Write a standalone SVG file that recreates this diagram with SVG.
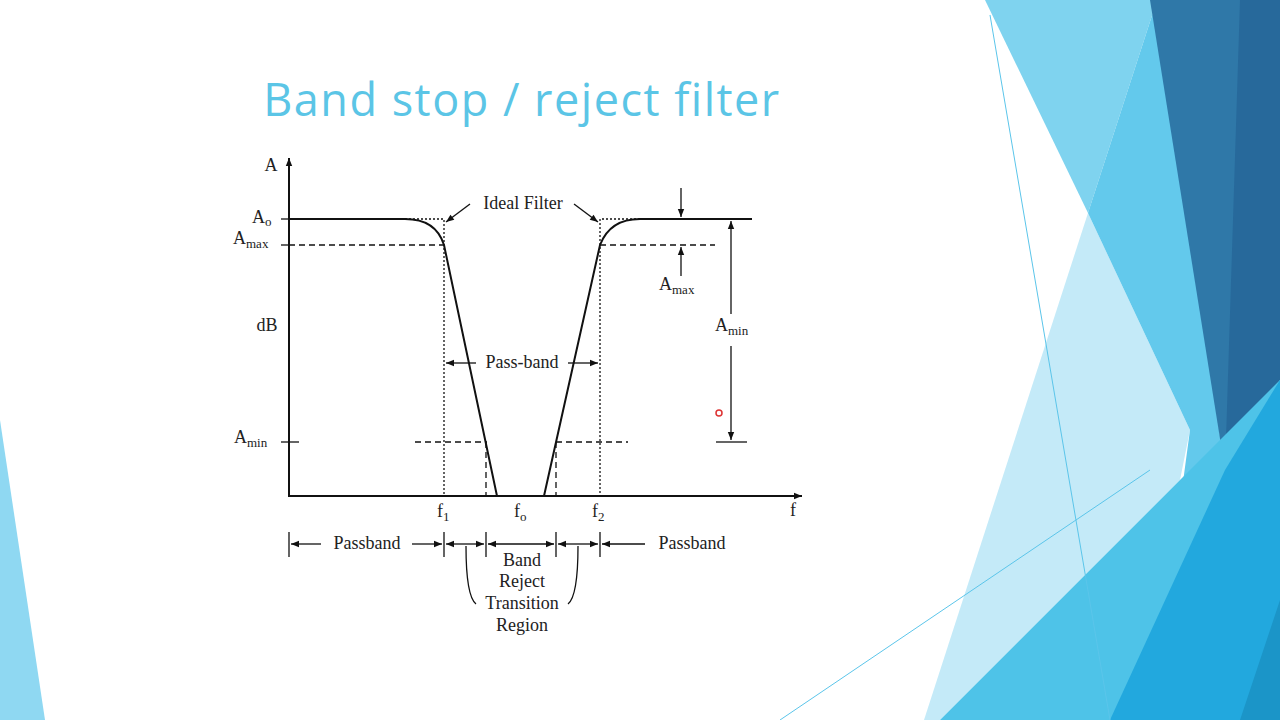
<svg xmlns="http://www.w3.org/2000/svg" width="1280" height="720" viewBox="0 0 1280 720">
<defs>
<marker id="ah" viewBox="0 0 10 10" refX="10" refY="5" markerWidth="10" markerHeight="8" markerUnits="userSpaceOnUse" orient="auto"><path d="M0,1 L10,5 L0,9 Z" fill="#111"/></marker>
<marker id="ahl" viewBox="0 0 10 10" refX="10" refY="5" markerWidth="14" markerHeight="8" markerUnits="userSpaceOnUse" orient="auto"><path d="M0,1 L10,5 L0,9 Z" fill="#111"/></marker>
</defs>
<style>
.t{font-family:"Liberation Serif",serif;font-size:18px;fill:#222}
.s{font-size:13px}
.ln{stroke:#111;stroke-width:2;fill:none}
.th{stroke:#111;stroke-width:1.3;fill:none}
.dot{stroke:#111;stroke-width:1.3;stroke-dasharray:2 2;fill:none}
.dash{stroke:#111;stroke-width:1.3;stroke-dasharray:6 4;fill:none}
</style>
<rect width="1280" height="720" fill="#fff"/>
<g id="background">
<polygon points="0,420 45,720 0,720" fill="#8fd8f2"/>
<polygon points="1088,213 1190,430 1180,480 940,720 924,720" fill="#c4eaf8"/>
<polygon points="985,0 1157,0 1088,213" fill="#7fd3ef"/>
<polygon points="1157,0 1225,470 1183,482 1190,430 1088,213" fill="#63c9ec"/>
<polygon points="1150,0 1280,0 1280,380 1225,470" fill="#2f78a8"/>
<polygon points="1240,0 1280,0 1280,380 1225,470" fill="#27699b"/>
<polygon points="940,720 1280,380 1280,720" fill="#4ec3e8"/>
<polygon points="1110,720 1225,470 1280,380 1280,720" fill="#22a8de"/>
<polygon points="1240,720 1280,600 1280,720" fill="#1b95c8"/>
<line x1="990" y1="15" x2="1110" y2="720" stroke="#5bc5ea" stroke-width="1"/>
<line x1="780" y1="720" x2="1150" y2="470" stroke="#5bc5ea" stroke-width="1"/>
</g>
<text id="title" x="522" y="116" text-anchor="middle" font-family="Open Sans, sans-serif" font-size="45" letter-spacing="1.5" fill="#5bc5e6">Band stop / reject filter</text>
<g id="axes">
<line class="ln" x1="289" y1="497" x2="289" y2="158" marker-end="url(#ahl)"/>
<line class="ln" x1="289" y1="496" x2="802" y2="496" marker-end="url(#ahl)"/>
<line class="th" x1="281" y1="219" x2="289" y2="219"/>
<line class="th" x1="281" y1="245" x2="289" y2="245"/>
<line class="th" x1="281" y1="442" x2="299" y2="442"/>
</g>
<g id="response">
<path class="ln" d="M289,219 L405,219 Q436,219 444,245 L497,496"/>
<path class="ln" d="M544,496 L600,245 Q610,219 640,219 L752,219"/>
</g>
<g id="guides">
<path class="dot" d="M405,219 H444 V496"/>
<path class="dot" d="M640,219 H600 V496"/>
<line class="dash" x1="289" y1="245" x2="444" y2="245"/>
<line class="dash" x1="600" y1="245" x2="715" y2="245"/>
<line class="dash" x1="415" y1="442" x2="487" y2="442"/>
<line class="dash" x1="556" y1="442" x2="628" y2="442"/>
<line class="dash" x1="486" y1="442" x2="486" y2="496"/>
<line class="dash" x1="556" y1="442" x2="556" y2="496"/>
</g>
<g id="connectors">
<line class="th" x1="470" y1="204" x2="446" y2="222" marker-end="url(#ah)"/>
<line class="th" x1="574" y1="204" x2="598" y2="222" marker-end="url(#ah)"/>
<line class="th" x1="476" y1="363" x2="446" y2="363" marker-end="url(#ah)"/>
<line class="th" x1="568" y1="363" x2="598" y2="363" marker-end="url(#ah)"/>
<line class="th" x1="681" y1="188" x2="681" y2="217" marker-end="url(#ah)"/>
<line class="th" x1="681" y1="276" x2="681" y2="247" marker-end="url(#ah)"/>
<line class="th" x1="731" y1="314" x2="731" y2="221" marker-end="url(#ah)"/>
<line class="th" x1="731" y1="346" x2="731" y2="440" marker-end="url(#ah)"/>
<line class="th" x1="716" y1="442" x2="747" y2="442"/>
<line class="th" x1="289" y1="532" x2="289" y2="557"/>
<line class="th" x1="444" y1="532" x2="444" y2="557"/>
<line class="th" x1="486" y1="532" x2="486" y2="557"/>
<line class="th" x1="556" y1="532" x2="556" y2="557"/>
<line class="th" x1="600" y1="532" x2="600" y2="557"/>
<line class="th" x1="321" y1="544" x2="291" y2="544" marker-end="url(#ah)"/>
<line class="th" x1="412" y1="544" x2="442" y2="544" marker-end="url(#ah)"/>
<line class="th" x1="465" y1="544" x2="446" y2="544" marker-end="url(#ah)"/>
<line class="th" x1="465" y1="544" x2="484" y2="544" marker-end="url(#ah)"/>
<line class="th" x1="521" y1="544" x2="488" y2="544" marker-end="url(#ah)"/>
<line class="th" x1="521" y1="544" x2="554" y2="544" marker-end="url(#ah)"/>
<line class="th" x1="578" y1="544" x2="558" y2="544" marker-end="url(#ah)"/>
<line class="th" x1="578" y1="544" x2="598" y2="544" marker-end="url(#ah)"/>
<line class="th" x1="645" y1="544" x2="602" y2="544" marker-end="url(#ah)"/>
<path class="th" d="M466,546 Q466,596 476,604"/>
<path class="th" d="M578,546 Q578,596 568,604"/>
</g>
<g id="labels">
<text class="t" x="271" y="171" text-anchor="middle">A</text>
<text class="t" x="252" y="223">A<tspan class="s" dy="3">o</tspan></text>
<text class="t" x="233" y="244">A<tspan class="s" dy="4">max</tspan></text>
<text class="t" x="267" y="331" text-anchor="middle">dB</text>
<text class="t" x="234" y="443">A<tspan class="s" dy="4">min</tspan></text>
<text class="t" x="523" y="209" text-anchor="middle">Ideal Filter</text>
<text class="t" x="522" y="368" text-anchor="middle">Pass-band</text>
<text class="t" x="659" y="290">A<tspan class="s" dy="4">max</tspan></text>
<text class="t" x="715" y="331">A<tspan class="s" dy="4">min</tspan></text>
<text class="t" x="437" y="517">f<tspan class="s" dy="4">1</tspan></text>
<text class="t" x="514" y="517">f<tspan class="s" dy="4">o</tspan></text>
<text class="t" x="592" y="517">f<tspan class="s" dy="4">2</tspan></text>
<text class="t" x="790" y="516">f</text>
<text class="t" x="367" y="549" text-anchor="middle">Passband</text>
<text class="t" x="692" y="549" text-anchor="middle">Passband</text>
<text class="t" x="522" y="566" text-anchor="middle">Band</text>
<text class="t" x="522" y="587" text-anchor="middle">Reject</text>
<text class="t" x="522" y="609" text-anchor="middle">Transition</text>
<text class="t" x="522" y="631" text-anchor="middle">Region</text>
</g>
<circle cx="719" cy="413" r="3" fill="none" stroke="#d33" stroke-width="1.5"/>
</svg>
